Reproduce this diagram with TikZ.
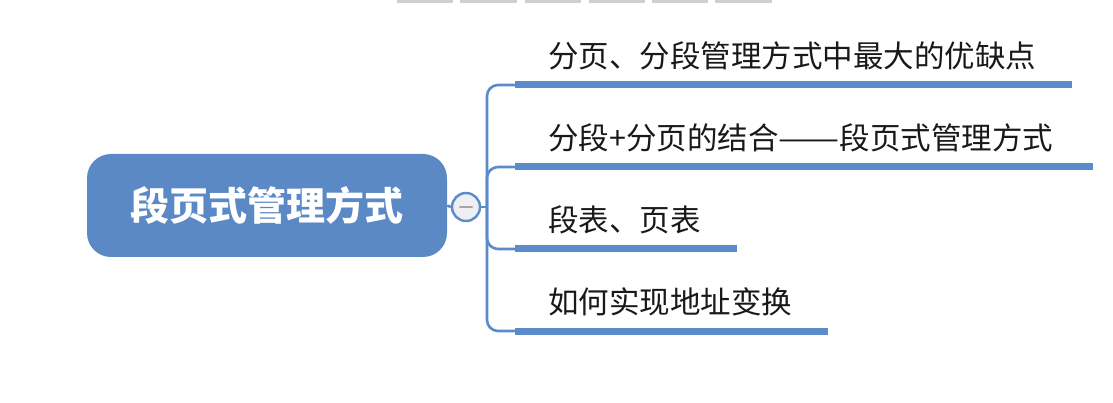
\documentclass[tikz,border=0pt]{standalone}
\usepackage{fontspec}
\newfontfamily\cjk{Noto Sans CJK SC}
\usetikzlibrary{calc}
\definecolor{mblue}{HTML}{5A89C6}
\definecolor{lblue}{HTML}{5B8BCB}
\definecolor{cfill}{HTML}{EEEEF3}
\definecolor{tgray}{HTML}{CDD0D3}
\tikzset{
  rootbox/.style={draw=none, fill=mblue, rounded corners=24pt, minimum width=360pt, minimum height=103pt, inner sep=0pt, text=white, font=\cjk\bfseries\fontsize{39}{44}\selectfont},
  topic/.style={anchor=base west, inner sep=0pt, text=black!90, font=\cjk\fontsize{30.5}{35}\selectfont},
  bar/.style={draw=lblue, line width=7pt},
  conn/.style={draw=lblue, line width=2.6pt, rounded corners=11pt},
  collapse/.style={circle, draw=lblue, line width=2.4pt, fill=cfill, minimum size=28pt, inner sep=0pt},
  toolbar/.style={fill=tgray, draw=none}
}
\begin{document}
\begin{tikzpicture}[x=1pt, y=-1pt]
\useasboundingbox[fill=white] (0,0) rectangle (1113,403);
% faint toolbar fragments at top
\foreach \a/\b in {397/453, 460/517, 525/581, 589/645, 652/708, 715/772}
  \fill[toolbar] (\a,0) rectangle (\b,3.5);
% root
\node[rootbox] (root) at (267,205.5) {\raisebox{-2pt}{段页式管理方式}};
\node[collapse] (col) at (466,207) {};
\draw[gray!70, line width=2pt, line cap=round] ($(col.center)+(-6,0)$) -- ($(col.center)+(6,0)$);
\draw[lblue, line width=2.6pt] (root.east) -- (col.west);
\coordinate (j) at (487,207);
% branch start/end coordinates
\coordinate (s1) at (515,85);  \coordinate (e1) at (1072,85);
\coordinate (s2) at (515,167); \coordinate (e2) at (1093,167);
\coordinate (s3) at (515,249); \coordinate (e3) at (737,249);
\coordinate (s4) at (515,331); \coordinate (e4) at (828,331);
\draw[conn] (col.east) -- (j);
\draw[conn] (j) |- (s1);
\draw[conn] (j) |- (s2);
\draw[conn] (j) |- (s3);
\draw[conn] (j) |- (s4);
\draw[bar] (s1) -- (e1);
\draw[bar] (s2) -- (e2);
\draw[bar] (s3) -- (e3);
\draw[bar] (s4) -- (e4);
% topic texts
\node[topic] (t1) at (548,68) {分页、分段管理方式中最大的优缺点};
\node[topic] (t2) at (548,150) {分段+分页的结合\resizebox{2em}{\height}{——}段页式管理方式};
\node[topic] (t3) at (548,232) {段表、页表};
\node[topic] (t4) at (548,313) {如何实现地址变换};
\end{tikzpicture}
\end{document}
